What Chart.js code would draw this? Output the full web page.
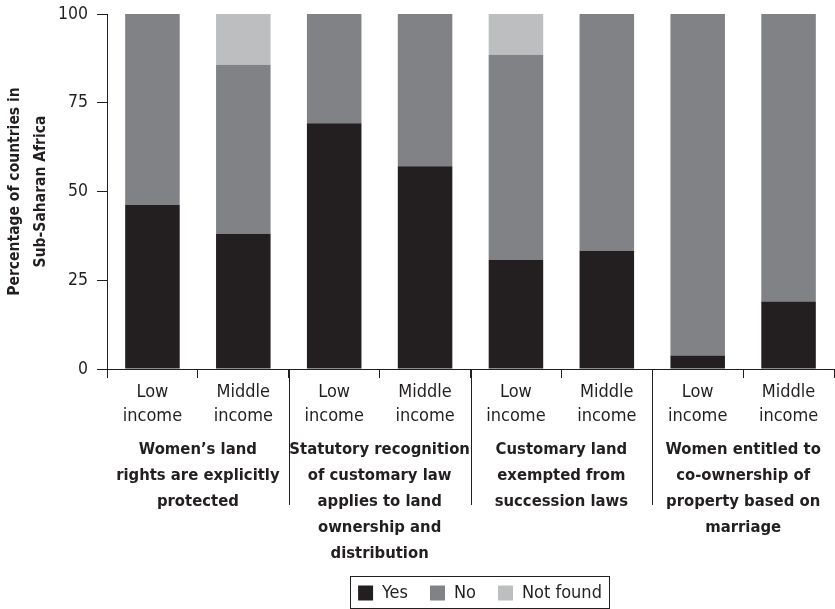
<!DOCTYPE html>
<html>
<head>
<meta charset="utf-8">
<script src="https://cdn.jsdelivr.net/npm/chart.js@4/dist/chart.umd.min.js"></script>
<style>
  html, body { margin: 0; padding: 0; background: #fff; }
  #wrap { width: 835px; height: 609px; }
</style>
</head>
<body>
<div id="wrap"><canvas id="landChart"></canvas></div>
<script>
const incomeLabels = [
    ['Low', 'income'], ['Middle', 'income'],
    ['Low', 'income'], ['Middle', 'income'],
    ['Low', 'income'], ['Middle', 'income'],
    ['Low', 'income'], ['Middle', 'income']
];
const groupLabels = [
    ['Women’s land', 'rights are explicitly', 'protected'],
    ['Statutory recognition', 'of customary law', 'applies to land', 'ownership and', 'distribution'],
    ['Customary land', 'exempted from', 'succession laws'],
    ['Women entitled to', 'co-ownership of', 'property based on', 'marriage']
];
const yesValues      = [46.2, 38.1, 69.2, 57.1, 30.8, 33.3, 3.8, 19.0];
const noValues       = [53.8, 47.6, 30.8, 42.9, 57.7, 66.7, 96.2, 81.0];
const notFoundValues = [0, 14.3, 0, 0, 11.5, 0, 0, 0];
const yTicks = [0, 25, 50, 75, 100];

const FONT = "'DejaVu Sans Condensed', 'Liberation Sans Narrow', sans-serif";
const INK = '#231f20';

// legend: fixed height and shifted right so it sits under the plot like the original
const legendTweaks = {
    id: 'legendTweaks',
    beforeLayout(chart) {
        const lg = chart.legend;
        if (lg && !lg._patched) {
            const fit = lg.fit.bind(lg);
            lg.fit = function () { fit(); this.height = 47; };
            lg._patched = true;
        }
    },
    afterLayout(chart) {
        const lg = chart.legend;
        if (!lg) return;
        lg.left += 63;
        lg.right += 63;
    }
};

// long separator lines between the four question groups + box around the legend
const decorations = {
    id: 'decorations',
    afterDraw(chart) {
        const ctx = chart.ctx;
        const x = chart.scales.x;
        const bottom = chart.chartArea.bottom;
        ctx.save();
        ctx.strokeStyle = INK;
        ctx.lineWidth = 1;
        [2, 4, 6].forEach(i => {
            const px = Math.round((x.getPixelForValue(i - 1) + x.getPixelForValue(i)) / 2) + 0.5;
            ctx.beginPath();
            ctx.moveTo(px, bottom);
            ctx.lineTo(px, bottom + 136);
            ctx.stroke();
        });
        const lg = chart.legend;
        const boxes = lg && lg.legendHitBoxes;
        if (boxes && boxes.length) {
            const first = boxes[0], last = boxes[boxes.length - 1];
            const cy = lg.top + lg.options.labels.padding + first.height / 2;
            const l = Math.round(first.left - 8) + 0.5;
            const r = Math.round(last.left + last.width + 7) + 0.5;
            const t = Math.round(cy - 17) + 0.5;
            const b = Math.round(cy + 15) + 0.5;
            ctx.strokeRect(l, t, r - l, b - t);
        }
        ctx.restore();
    }
};

new Chart(document.getElementById('landChart'), {
    type: 'bar',
    data: {
        labels: incomeLabels,
        datasets: [
            { label: 'Yes', data: yesValues, backgroundColor: INK },
            { label: 'No', data: noValues, backgroundColor: '#808285' },
            { label: 'Not found', data: notFoundValues, backgroundColor: '#bcbec0' }
        ]
    },
    options: {
        responsive: true,
        maintainAspectRatio: false,
        animation: false,
        datasets: { bar: { barPercentage: 0.6, categoryPercentage: 1, borderWidth: 0 } },
        layout: { padding: { top: 14, right: 1, bottom: 0, left: 0 } },
        scales: {
            x: {
                stacked: true,
                afterFit: scale => { scale.height = 61; },
                grid: { drawOnChartArea: false, drawTicks: true, tickLength: 9, color: INK },
                border: { display: true, color: INK, width: 1 },
                ticks: {
                    color: INK, padding: 2, maxRotation: 0, autoSkip: false,
                    font: { family: FONT, size: 18, lineHeight: 1.333 }
                }
            },
            x2: {
                type: 'category',
                labels: groupLabels,
                position: 'bottom',
                offset: true,
                afterFit: scale => { scale.height = 132; },
                grid: { display: false, drawTicks: false, tickLength: 0 },
                border: { display: false },
                ticks: {
                    color: INK, padding: 7, maxRotation: 0, autoSkip: false,
                    font: { family: FONT, size: 16.5, weight: 'bold', lineHeight: 1.576 }
                }
            },
            y: {
                stacked: true,
                min: 0,
                max: 100,
                afterBuildTicks: scale => { scale.ticks = yTicks.map(v => ({ value: v })); },
                afterFit: scale => {
                    scale.width = 107;
                    scale.paddingTop = 0;
                    scale.paddingBottom = 0;
                },
                grid: { drawOnChartArea: false, drawTicks: true, tickLength: 10, color: INK },
                border: { display: true, color: INK, width: 1 },
                ticks: { color: INK, padding: 9, font: { family: FONT, size: 17.5 } },
                title: {
                    display: true,
                    text: ['Percentage of countries in', 'Sub-Saharan Africa'],
                    color: INK,
                    padding: { top: 2, bottom: 4 },
                    font: { family: FONT, size: 15.5, weight: 'bold', lineHeight: 1.68 }
                }
            }
        },
        plugins: {
            legend: {
                position: 'bottom',
                labels: {
                    color: INK, boxWidth: 15, boxHeight: 15, padding: 22,
                    font: { family: FONT, size: 18 }
                }
            },
            tooltip: { enabled: false }
        }
    },
    plugins: [legendTweaks, decorations]
});
</script>
</body>
</html>
